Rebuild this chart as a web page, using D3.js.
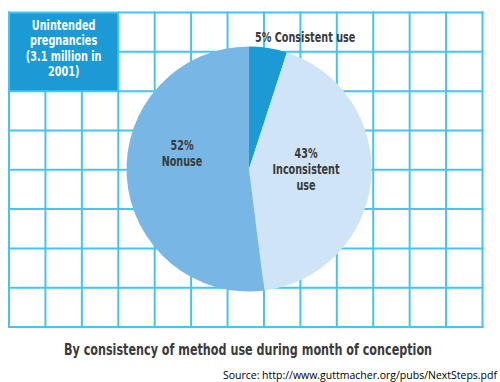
<!DOCTYPE html>
<html>
<head>
<meta charset="utf-8">
<script src="https://cdn.jsdelivr.net/npm/d3@7"></script>
<style>
body { margin:0; background:#fff; }
text { font-family:"DejaVu Sans",sans-serif; }
</style>
</head>
<body>
<div id="chart"></div>
<script>
// pie data, clockwise from 12 o'clock
var categories = ["Consistent use", "Inconsistent use", "Nonuse"];
var shares = [5, 43, 52];
var sliceColors = ["#1b9ad6", "#cfe4f7", "#78b7e5"];

var boxLines = ["Unintended", "pregnancies", "(3.1 million in", "2001)"];
var title = "By consistency of method use during month of conception";
var source = "Source: http://www.guttmacher.org/pubs/NextSteps.pdf";

var width = 500, height = 382;
var cols = 13, rows = 8;

var svg = d3.select("#chart")
	.append("svg")
	.attr("width", width)
	.attr("height", height);

var x = d3.scaleLinear().domain([0, cols]).range([9, 482.5]);
var y = d3.scaleLinear().domain([0, rows]).range([12.5, 327]);

// no condensed face installed, so squeeze the text horizontally
function condensed(x, y, sx){
	return svg.append("g")
		.attr("transform", "translate(" + x + "," + y + ") scale(" + sx + ",1)")
		.append("text")
		.attr("font-weight", "bold");
}

function multiline(t, lines, lh){
	t.selectAll("tspan")
		.data(lines)
		.enter().append("tspan")
			.attr("x", 0)
			.attr("dy", function(d, i){ return i == 0 ? 0 : lh; })
			.text(function(d){ return d; });
}

// info box in the top left
svg.append("rect")
	.attr("x", x(0))
	.attr("y", y(0))
	.attr("width", x(3) - x(0))
	.attr("height", y(2) - y(0))
	.attr("fill", "#1b9ad6");

// grid
var grid = svg.append("g")
	.attr("stroke", "#45c4f0")
	.attr("stroke-width", 2);

grid.selectAll("line.v")
	.data(d3.range(cols + 1))
	.enter().append("line")
		.attr("class", "v")
		.attr("x1", function(d){ return x(d); })
		.attr("x2", function(d){ return x(d); })
		.attr("y1", function(d){ return d > 0 && d < 3 ? y(2) : y(0) - 1; })
		.attr("y2", y(rows) + 1);

grid.selectAll("line.h")
	.data(d3.range(rows + 1))
	.enter().append("line")
		.attr("class", "h")
		.attr("x1", function(d){ return d == 1 ? x(3) : x(0) - 1; })
		.attr("x2", x(cols) + 1)
		.attr("y1", function(d){ return y(d); })
		.attr("y2", function(d){ return y(d); });

var boxText = condensed((x(0) + x(3)) / 2, 30, 0.72)
	.attr("text-anchor", "middle")
	.attr("font-size", "13.5px")
	.attr("fill", "#fff");
multiline(boxText, boxLines, 15.5);

// pie
var cx = 249, cy = 169, r = 122.5;

var pie = d3.pie().sort(null).value(function(d){ return d; });
var arc = d3.arc().innerRadius(0).outerRadius(r);
var arcs = pie(shares);

var pg = svg.append("g")
	.attr("transform", "translate(" + cx + "," + cy + ")");

pg.selectAll("path")
	.data(arcs)
	.enter().append("path")
		.attr("d", arc)
		.attr("fill", function(d, i){ return sliceColors[i]; });

var labelSx = 0.69;

// small slice label sits outside, above the pie
condensed(cx + 6, 42, labelSx)
	.attr("font-size", "14px")
	.attr("fill", "#3a3a3a")
	.text(shares[0] + "% " + categories[0]);

var inner = [
	{ lines: [shares[1] + "%", "Inconsistent", "use"], x: 306, y: 158 },
	{ lines: [shares[2] + "%", "Nonuse"], x: 182, y: 150 }
];

inner.forEach(function(l){
	var t = condensed(l.x, l.y, labelSx)
		.attr("text-anchor", "middle")
		.attr("font-size", "14px")
		.attr("fill", "#3a3a3a");
	multiline(t, l.lines, 16);
});

condensed(248, 355, 0.70)
	.attr("text-anchor", "middle")
	.attr("font-size", "16px")
	.attr("fill", "#3a3a3a")
	.text(title);

svg.append("text")
	.attr("x", 497)
	.attr("y", 379)
	.attr("text-anchor", "end")
	.attr("font-size", "10.5px")
	.style("font-family", "'Open Sans', sans-serif")
	.attr("fill", "#000")
	.text(source);
</script>
</body>
</html>
